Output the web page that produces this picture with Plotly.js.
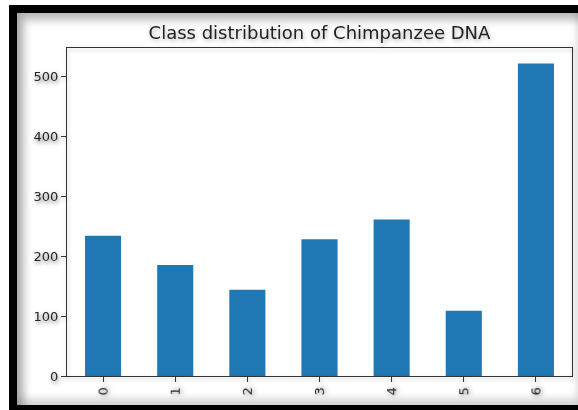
<!DOCTYPE html>
<html>
<head>
<meta charset="utf-8">
<script src="https://cdn.plot.ly/plotly-3.0.1.min.js"></script>
<style>
  html, body { margin: 0; padding: 0; background: #ffffff; }
  #wrap { position: relative; width: 578px; height: 410px; overflow: hidden; background: #ffffff; }
  #chart { position: absolute; left: 0; top: 0; width: 578px; height: 410px; }
  #frame {
    position: absolute; left: 9px; top: 5px; width: 569px; height: 405px;
    box-sizing: border-box;
    border-top: 8px solid #000; border-left: 8px solid #000; border-bottom: 5px solid #000;
    box-shadow: inset 7px 7px 9px rgba(0,0,0,0.28), inset 0 -6px 8px rgba(0,0,0,0.18);
    pointer-events: none;
  }
  #chart text { filter: drop-shadow(1px 2px 2px rgba(0,0,0,0.30)); }
  #chart .xlines-above, #chart .ylines-above, #chart .xtick, #chart .ytick {
    filter: drop-shadow(1px 2px 2px rgba(0,0,0,0.25));
  }
</style>
</head>
<body>
<div id="wrap">
  <div id="chart"></div>
  <div id="frame"></div>
</div>
<script>
const categories = ["0", "1", "2", "3", "4", "5", "6"];
const classCounts = [234, 185, 144, 228, 261, 109, 521];
const yTickValues = [0, 100, 200, 300, 400, 500];
const titleText = "Class distribution of Chimpanzee DNA";

const yMax = Math.max(...classCounts) * 1.05;

const trace = {
  type: "bar",
  x: categories.map((c, i) => i),
  y: classCounts,
  marker: { color: "#1f77b4", line: { width: 0 } },
  hoverinfo: "x+y"
};

const layout = {
  width: 578,
  height: 410,
  margin: { l: 67, r: 6, t: 48, b: 34, pad: 0 },
  paper_bgcolor: "rgba(0,0,0,0)",
  plot_bgcolor: "#ffffff",
  bargap: 0.5,
  showlegend: false,
  font: { family: "DejaVu Sans", color: "#262626", size: 13 },
  title: {
    text: titleText,
    font: { family: "DejaVu Sans", size: 18, color: "#222222" },
    x: 0.5, xref: "paper", xanchor: "center",
    y: 1, yref: "paper", yanchor: "bottom", pad: { b: 9 }
  },
  xaxis: {
    range: [-0.5, 6.5],
    tickmode: "array",
    tickvals: categories.map((c, i) => i),
    ticktext: categories,
    tickangle: -90,
    ticks: "outside", ticklen: 5, tickwidth: 1, tickcolor: "#333333",
    showline: true, linecolor: "#333333", linewidth: 1, mirror: true,
    showgrid: false, zeroline: false,
    tickfont: { family: "DejaVu Sans", size: 13, color: "#262626" },
    fixedrange: true
  },
  yaxis: {
    range: [0, yMax],
    tickmode: "array",
    tickvals: yTickValues,
    ticktext: yTickValues.map(String),
    ticks: "outside", ticklen: 5, tickwidth: 1, tickcolor: "#333333",
    showline: true, linecolor: "#333333", linewidth: 1, mirror: true,
    showgrid: false, zeroline: false,
    tickfont: { family: "DejaVu Sans", size: 13, color: "#262626" },
    fixedrange: true
  }
};

Plotly.newPlot("chart", [trace], layout, { staticPlot: true, displayModeBar: false });
</script>
</body>
</html>
